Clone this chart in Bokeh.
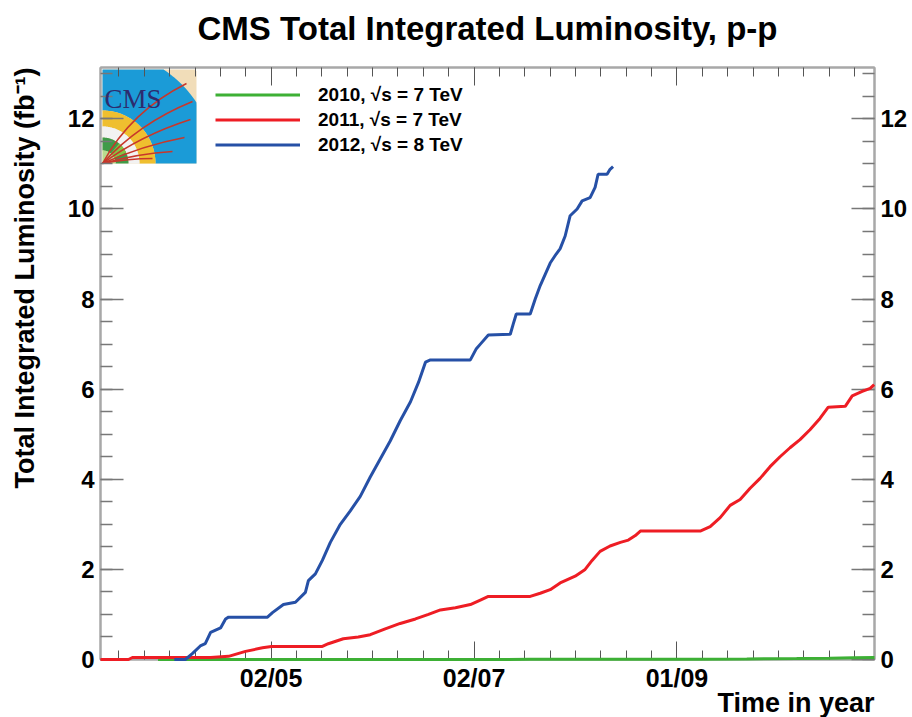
import numpy as np
from bokeh.plotting import figure
from bokeh.models import (Range1d, LinearAxis, FixedTicker, Legend, LegendItem, Label, Title)
from bokeh.embed import file_html
from bokeh.resources import INLINE

# ---------------- data (day of year, integrated luminosity in fb^-1) ----------------
days_2010 = [88, 120, 150, 180, 200, 230, 250, 265, 280, 290, 297, 303.4]
lumi_2010 = [0.0, 0.0002, 0.001, 0.002, 0.003, 0.0035, 0.006, 0.012, 0.02, 0.03, 0.04, 0.044]

days_2011 = [70.7, 79.1, 80.3, 103.8, 109.2, 114.3, 119.4, 122.1, 137.4, 139.2, 143.7, 148.2,
             151.8, 156.3, 160.8, 165.4, 169.3, 172.9, 177.4, 181.9, 184.9, 187.3, 199.9,
             202.9, 205.9, 208.9, 213.4, 216.4, 218.5, 220.9, 223.9, 227.0, 229.4, 231.5,
             233.0, 251.0, 254.0, 257.0, 260.0, 263.0, 266.0, 269.0, 272.0, 275.0, 278.0,
             281.0, 284.0, 287.0, 289.5, 294.6, 296.7, 299.7, 302.1, 303.3]
lumi_2011 = [0.0, 0.0, 0.045, 0.045, 0.07, 0.18, 0.26, 0.29, 0.29, 0.35, 0.46, 0.5,
             0.55, 0.68, 0.8, 0.9, 1.0, 1.1, 1.15, 1.22, 1.32, 1.4, 1.4,
             1.47, 1.55, 1.7, 1.85, 2.0, 2.2, 2.4, 2.52, 2.6, 2.65, 2.75,
             2.85, 2.85, 2.95, 3.15, 3.42, 3.55, 3.8, 4.02, 4.28, 4.5, 4.7,
             4.88, 5.1, 5.35, 5.6, 5.62, 5.85, 5.95, 6.02, 6.1]

days_2012 = [92.9, 96.2, 98.3, 100.7, 102.2, 103.8, 106.8, 108.3, 109.2, 120.9, 122.4,
             125.7, 129.3, 132.3, 133.2, 135.3, 137.4, 139.8, 142.8, 145.8, 148.8, 151.8,
             154.8, 157.8, 160.8, 163.9, 166.3, 168.4, 169.9, 181.9, 183.7, 184.9, 187.3,
             193.9, 194.8, 195.7, 199.9, 201.4, 202.9, 204.4, 205.9, 207.7, 208.9, 210.4,
             211.9, 214.0, 215.5, 217.9, 219.4, 220.3, 223.0, 223.9, 224.8]
lumi_2012 = [0.0, 0.0, 0.13, 0.3, 0.35, 0.6, 0.7, 0.9, 0.94, 0.94, 1.04,
             1.22, 1.27, 1.49, 1.75, 1.9, 2.2, 2.6, 3.0, 3.3, 3.62, 4.05,
             4.45, 4.85, 5.3, 5.72, 6.15, 6.6, 6.65, 6.65, 6.9, 7.0, 7.2,
             7.22, 7.45, 7.67, 7.67, 8.0, 8.3, 8.55, 8.8, 9.0, 9.12, 9.4,
             9.85, 10.0, 10.18, 10.25, 10.48, 10.77, 10.77, 10.88, 10.94]

tick_days = [122, 183, 244]
tick_labels = ["02/05", "02/07", "01/09"]
y_ticks = [0, 2, 4, 6, 8, 10, 12]
legend_labels = ["2010, √s = 7 TeV", "2011, √s = 7 TeV", "2012, √s = 8 TeV"]
colors = ["#3db035", "#ee1d24", "#2650a6"]

# ---------------- layout ----------------
X0, X1 = 70.7, 303.4
Y0, Y1 = 0.0, 13.14
W, H = 912, 717
BL, BR, BT, BB = 100, 38, 67, 58
FW, FH = W - BL - BR, H - BT - BB
FONT = "Liberation Sans"

p = figure(width=W, height=H, x_range=Range1d(X0, X1), y_range=Range1d(Y0, Y1),
           output_backend="svg", toolbar_location=None,
           min_border_left=BL, min_border_right=BR, min_border_top=BT, min_border_bottom=BB,
           x_axis_location=None, y_axis_location=None)
p.xgrid.visible = False
p.ygrid.visible = False
p.outline_line_color = "#a8a8a8"
p.outline_line_width = 2
p.background_fill_color = "white"
p.border_fill_color = "white"
p.extra_x_ranges = {"px": Range1d(0, FW)}
p.extra_y_ranges = {"px": Range1d(0, FH)}

step = 61 / 8
minor_x = [tick_days[0] + k * step for k in range(-8, 26)
           if X0 <= tick_days[0] + k * step <= X1]
minor_y = [k * 0.5 for k in range(0, 27) if k * 0.5 <= Y1]

def style_axis(ax, horizontal, labels=True):
    ax.axis_line_color = "#a8a8a8"
    ax.axis_line_width = 2
    ax.major_tick_out = 0
    ax.minor_tick_out = 0
    if horizontal:
        ax.major_tick_in = 18
        ax.minor_tick_in = 9
        ax.major_tick_line_color = "#555555"
        ax.minor_tick_line_color = "#555555"
        ax.major_tick_line_width = 1
        ax.minor_tick_line_width = 1
    else:
        ax.major_tick_in = 23
        ax.minor_tick_in = 12
        ax.major_tick_line_color = "#777777"
        ax.minor_tick_line_color = "#777777"
        ax.major_tick_line_width = 1.5
        ax.minor_tick_line_width = 1.5
    ax.major_label_text_font = FONT
    ax.major_label_text_font_style = "bold"
    ax.major_label_text_color = "black" if labels else None
    if not labels:
        ax.major_label_text_font_size = "0px"
        ax.major_label_standoff = 0

xt = FixedTicker(ticks=tick_days, minor_ticks=minor_x)
ax_b = LinearAxis(ticker=xt, major_label_overrides=dict(zip(tick_days, tick_labels)))
style_axis(ax_b, True)
ax_b.major_label_text_font_size = "25px"
ax_b.major_label_standoff = 4
p.add_layout(ax_b, "below")

# top axis: ticks only; its axis label carries the chart title
ax_t = LinearAxis(ticker=xt, axis_label="CMS Total Integrated Luminosity, p-p")
style_axis(ax_t, True, labels=False)
ax_t.axis_label_text_font = FONT
ax_t.axis_label_text_font_style = "bold"
ax_t.axis_label_text_font_size = "33px"
ax_t.axis_label_text_color = "black"
ax_t.axis_label_standoff = 21
p.add_layout(ax_t, "above")

yt = FixedTicker(ticks=y_ticks, minor_ticks=minor_y)
ax_l = LinearAxis(ticker=yt, axis_label="\u00a0")
style_axis(ax_l, False)
ax_l.major_label_text_font_size = "24px"
ax_l.major_label_standoff = 6
# invisible spacer label: pushes the y title outwards without growing the border
ax_l.axis_label_text_font_size = "1px"
ax_l.axis_label_text_color = None
ax_l.axis_label_standoff = 19
p.add_layout(ax_l, "left")

ax_r = LinearAxis(ticker=yt)
style_axis(ax_r, False)
ax_r.major_label_text_font_size = "24px"
ax_r.major_label_standoff = 6
p.add_layout(ax_r, "right")

# axis titles (ROOT style: aligned to the end of the axis)
ytitle = Title(text="Total Integrated Luminosity (fb⁻¹)", align="right", text_font=FONT,
               text_font_style="bold", text_font_size="27px", text_color="black", standoff=4)
p.add_layout(ytitle, "left")
xtitle = Title(text="Time in year", align="right", text_font=FONT, text_font_style="bold",
               text_font_size="27px", text_color="black", standoff=-18)
p.add_layout(xtitle, "below")

# ---------------- curves ----------------
r10 = p.line(days_2010, lumi_2010, line_color=colors[0], line_width=3, level="overlay")
r11 = p.line(days_2011, lumi_2011, line_color=colors[1], line_width=3, level="overlay")
r12 = p.line(days_2012, lumi_2012, line_color=colors[2], line_width=3, level="overlay")

legend = Legend(items=[LegendItem(label=lab, renderers=[r])
                       for lab, r in zip(legend_labels, [r10, r11, r12])],
                location=(115, 502), orientation="vertical",
                label_text_font=FONT, label_text_font_style="bold", label_text_color="black",
                label_text_font_size="19px", glyph_width=85, glyph_height=25,
                label_height=25, spacing=0, padding=0, margin=0, label_standoff=18,
                background_fill_alpha=0, border_line_color=None)
p.add_layout(legend)

# ---------------- CMS logo (decoration, frame pixel coordinates) ----------------
LX, LY, S = 2, 496, 94

def ring(r_in, r_out, a0=0.0, a1=90.0, n=80):
    th = np.radians(np.linspace(a0, a1, n))
    lim = S / np.maximum(np.cos(th), np.sin(th))
    ro = np.minimum(r_out, lim)
    ri = np.minimum(r_in, lim)
    xs = np.concatenate([ro * np.cos(th), (ri * np.cos(th))[::-1]]) + LX
    ys = np.concatenate([ro * np.sin(th), (ri * np.sin(th))[::-1]]) + LY
    return list(xs), list(ys)

logo_parts = [
    (0, 200, 0, 90, "#f1ddb9"),
    (53, 112, 0, 90, "#1b9bd7"),
    (37, 53, 0, 90, "#efbf2f"),
    (26, 37, 0, 90, "#f2f2f2"),
    (13, 26, 0, 90, "#3f9b48"),
    (13, 26, 25, 50, "#86c443"),
    (0, 13, 0, 90, "#b9dc8f"),
]
for r_in, r_out, a0, a1, col in logo_parts:
    xs, ys = ring(r_in, r_out, a0, a1)
    p.patch(xs, ys, fill_color=col, line_color=None, x_range_name="px", y_range_name="px")

track_ends = [(84, 80), (90, 62), (88, 44), (82, 26), (70, 12), (50, 5)]
track_ctrl = [(28, 52), (36, 40), (38, 28), (40, 18), (36, 10), (26, 5)]
p.quadratic(x0=[LX] * 6, y0=[LY] * 6,
            x1=[LX + e[0] for e in track_ends], y1=[LY + e[1] for e in track_ends],
            cx=[LX + c[0] for c in track_ctrl], cy=[LY + c[1] for c in track_ctrl],
            line_color="#c8372b", line_width=1.5, x_range_name="px", y_range_name="px")
p.add_layout(Label(x=LX + 2, y=LY + 65, x_range_name="px", y_range_name="px",
                   text="CMS", text_font="Liberation Serif", text_font_size="27px",
                   text_color="#2d2b6e", text_baseline="alphabetic"))

open("out.html", "w").write(file_html(p, INLINE))
